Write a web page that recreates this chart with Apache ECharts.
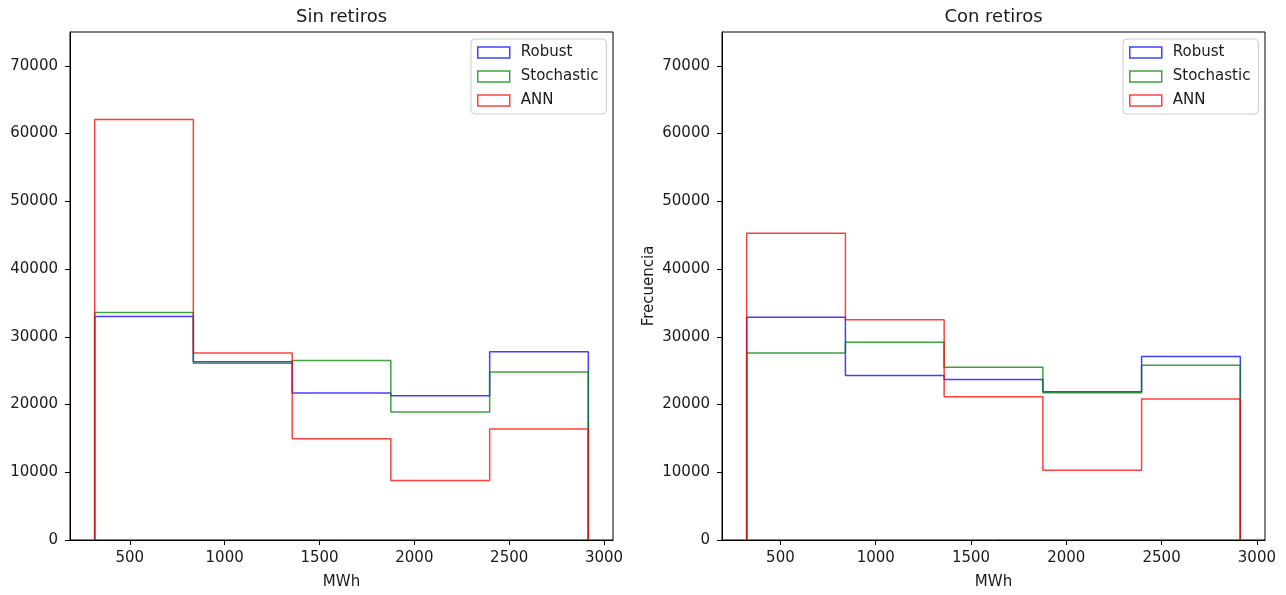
<!DOCTYPE html>
<html>
<head>
<meta charset="utf-8">
<script src="https://cdn.jsdelivr.net/npm/echarts@6/dist/echarts.min.js"></script>
<style>
  html, body { margin: 0; padding: 0; background: #fff; }
  #main { width: 1286px; height: 595px; }
</style>
</head>
<body>
<div id="main"></div>
<script>
// bin edges (MWh) and counts
var edgesSin = [315, 835, 1356, 1876, 2397, 2917];
var robustSin = [33000, 26300, 21700, 21300, 27800];
var stochSin = [33600, 26100, 26500, 18900, 24800];
var annSin = [62100, 27600, 14950, 8800, 16400];

var edgesCon = [323, 841, 1359, 1877, 2395, 2913];
var robustCon = [32900, 24300, 23700, 21900, 27100];
var stochCon = [27600, 29200, 25500, 21750, 25800];
var annCon = [45300, 32500, 21150, 10300, 20800];

var names = ['Robust', 'Stochastic', 'ANN'];
var xTicks = [500, 1000, 1500, 2000, 2500, 3000];
var yTicks = [0, 10000, 20000, 30000, 40000, 50000, 60000, 70000];
var titles = ['Sin retiros', 'Con retiros'];

var colors = ['rgba(0,0,255,0.75)', 'rgba(0,128,0,0.75)', 'rgba(255,0,0,0.75)'];
var font = '"DejaVu Sans", sans-serif';
var ink = '#1a1a1a';

// outline of a step histogram: up from the baseline, along each bin, back down
function stepPath(edges, counts) {
    var pts = [[edges[0], 0]];
    for (var i = 0; i < counts.length; i++) {
        pts.push([edges[i], counts[i]]);
        pts.push([edges[i + 1], counts[i]]);
    }
    pts.push([edges[edges.length - 1], 0]);
    return pts;
}

function plain(v) { return String(v); }

var chart = echarts.init(document.getElementById('main'));

var grids = [
    {left: 70, top: 32, width: 543, height: 509},
    {left: 722, top: 32, width: 543, height: 509}
];
var panels = [
    {edges: edgesSin, data: [robustSin, stochSin, annSin]},
    {edges: edgesCon, data: [robustCon, stochCon, annCon]}
];

var option = {
    backgroundColor: '#fff',
    animation: false,
    title: [],
    legend: [],
    grid: [],
    xAxis: [],
    yAxis: [],
    series: []
};

panels.forEach(function (p, k) {
    var g = grids[k];
    var e0 = p.edges[0], e1 = p.edges[p.edges.length - 1];
    var pad = (e1 - e0) * 0.05;

    option.grid.push({
        left: g.left, top: g.top, width: g.width, height: g.height,
        show: true, borderColor: '#000', borderWidth: 1, backgroundColor: '#fff'
    });
    option.title.push({
        text: titles[k],
        left: g.left + g.width / 2,
        top: 8,
        padding: 0,
        textAlign: 'center',
        textStyle: {fontFamily: font, fontSize: 18, fontWeight: 'normal', color: ink}
    });
    option.xAxis.push({
        type: 'value',
        gridIndex: k,
        min: e0 - pad,
        max: e1 + pad,
        name: 'MWh',
        nameLocation: 'middle',
        nameGap: 35,
        nameTextStyle: {fontFamily: font, fontSize: 15, color: ink},
        axisLine: {show: true, lineStyle: {color: '#000', width: 1}},
        axisTick: {show: true, length: 5, customValues: xTicks, lineStyle: {color: '#000'}},
        axisLabel: {customValues: xTicks, formatter: plain, margin: 11, fontFamily: font, fontSize: 15, color: ink},
        splitLine: {show: false}
    });
    option.yAxis.push({
        type: 'value',
        gridIndex: k,
        min: 0,
        max: 75000,
        name: k === 1 ? 'Frecuencia' : '',
        nameLocation: 'middle',
        nameGap: 65,
        nameTextStyle: {fontFamily: font, fontSize: 15, color: ink},
        axisLine: {show: true, lineStyle: {color: '#000', width: 1}},
        axisTick: {show: true, length: 5, customValues: yTicks, lineStyle: {color: '#000'}},
        axisLabel: {customValues: yTicks, formatter: plain, margin: 12, fontFamily: font, fontSize: 15, color: ink},
        splitLine: {show: false}
    });
    option.legend.push({
        orient: 'vertical',
        left: g.left + g.width - 142,
        top: 39,
        padding: [6, 8, 6, 6],
        itemGap: 9,
        itemWidth: 32,
        itemHeight: 11,
        backgroundColor: '#fff',
        borderColor: '#cccccc',
        borderWidth: 1,
        borderRadius: 4,
        selectedMode: false,
        textStyle: {fontFamily: font, fontSize: 15, color: ink, lineHeight: 14, padding: [0, 0, 0, 6]},
        data: names.map(function (n, i) {
            return {
                name: n,
                icon: 'rect',
                itemStyle: {color: 'rgba(255,255,255,0)', borderColor: colors[i], borderWidth: 1.5}
            };
        })
    });
    p.data.forEach(function (counts, i) {
        option.series.push({
            name: names[i],
            type: 'line',
            xAxisIndex: k,
            yAxisIndex: k,
            showSymbol: false,
            symbol: 'none',
            clip: true,
            color: colors[i],
            lineStyle: {color: colors[i], width: 1.5},
            data: stepPath(p.edges, counts)
        });
    });
});

chart.setOption(option);
</script>
</body>
</html>
